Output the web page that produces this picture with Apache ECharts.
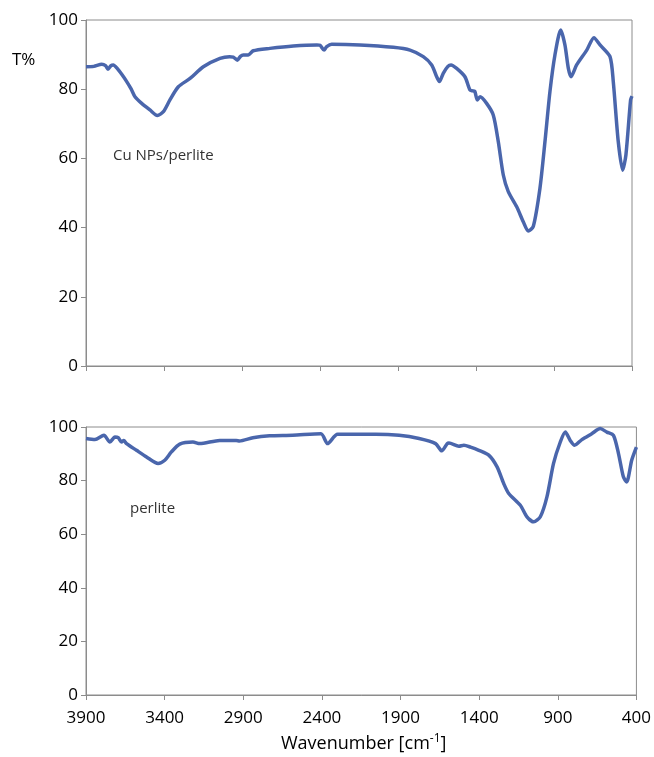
<!DOCTYPE html>
<html>
<head>
<meta charset="utf-8">
<script src="https://cdn.jsdelivr.net/npm/echarts@6/dist/echarts.min.js"></script>
<style>
html,body{margin:0;padding:0;background:#fff;}
#chart{width:654px;height:757px;}
</style>
</head>
<body>
<div id="chart"></div>
<script>
// Wavenumber ticks (cm-1)
var xTicks = [3900, 3400, 2900, 2400, 1900, 1400, 900, 400];
var yTicks = [0, 20, 40, 60, 80, 100];

// Cu NPs/perlite spectrum
var cuWave = [3900,3850,3799,3775,3759,3740,3725,3700,3671,3639,3610,3586,3543,3490,3443,3404,3362,3308,3233,3148,3041,2980,2956,2930,2910,2892,2860,2828,2721,2571,2420,2400,2374,2357,2325,2144,1930,1823,1738,1684,1652,1635,1610,1580,1560,1524,1471,1439,1420,1407,1392,1374,1332,1289,1257,1225,1193,1139,1097,1065,1033,990,958,926,894,857,830,808,791,755,690,644,605,541,520,488,460,439,409,400];
var cuT =    [86.5,86.6,87.2,86.8,85.8,86.8,87.0,86.0,84.3,82.2,80.0,77.8,75.9,74.0,72.4,73.5,76.9,80.7,83.1,86.5,88.9,89.4,89.3,88.4,89.5,89.9,89.9,91.1,91.8,92.5,92.8,92.7,91.3,92.3,93.0,92.8,92.1,91.3,89.4,87.0,83.6,82.2,84.6,86.6,87.0,86.0,83.6,79.8,79.5,79.3,76.9,77.8,75.9,72.5,64.8,55.2,50.4,46.0,41.7,39.0,40.3,51.4,64.8,79.3,89.9,97.1,92.8,86.0,83.6,87.0,91.3,94.9,92.8,89.4,82.2,64.8,56.6,61.0,76.9,78.0];

// perlite spectrum
var perWave = [3900,3843,3786,3748,3716,3695,3674,3660,3642,3579,3515,3442,3399,3357,3304,3220,3177,3050,2945,2924,2839,2733,2586,2406,2364,2300,2057,1909,1782,1677,1638,1603,1592,1529,1497,1455,1402,1339,1286,1244,1212,1138,1096,1053,1011,969,927,884,852,821,793,747,684,630,588,546,514,483,462,430,400];
var perT =    [95.7,95.3,96.9,94.4,96.3,96.0,94.4,95.0,93.8,91.3,88.8,86.4,87.6,90.7,93.6,94.4,93.8,95.0,95.0,94.8,96.0,96.7,96.9,97.5,93.8,97.3,97.3,96.9,95.7,93.8,91.1,93.8,94.0,92.8,93.2,92.5,91.3,89.5,85.1,78.9,75.2,70.8,66.5,64.6,66.5,73.9,86.4,94.4,98.1,95.0,93.2,95.3,97.5,99.4,98.1,96.9,90.1,81.4,79.5,87.6,92.5];

function pairs(xs, ys){ return xs.map(function(x,i){ return [x, ys[i]]; }); }

var FONT = '"Open Sans", "Noto Sans", sans-serif';
var AXIS_COLOR = '#8c8c8c';
var LINE_COLOR = '#4A66AC';

function xAxisCfg(idx, showLabels){
  return {
    type: 'value', gridIndex: idx, inverse: true,
    min: xTicks[xTicks.length-1], max: xTicks[0], interval: 500,
    axisLine: {show: true, lineStyle: {color: AXIS_COLOR, width: 1}},
    axisTick: {show: true, length: 5, lineStyle: {color: AXIS_COLOR}},
    axisLabel: {show: showLabels, color: '#000', fontSize: 17, fontFamily: FONT, margin: 15,
                formatter: function(v){ return String(v); }},
    splitLine: {show: false}
  };
}
function yAxisCfg(idx){
  return {
    type: 'value', gridIndex: idx, min: yTicks[0], max: yTicks[yTicks.length-1], interval: 20,
    axisLine: {show: true, lineStyle: {color: AXIS_COLOR, width: 1}},
    axisTick: {show: true, length: 5, lineStyle: {color: AXIS_COLOR}},
    axisLabel: {color: '#000', fontSize: 17, fontFamily: FONT, margin: 8},
    splitLine: {show: false}
  };
}

var chart = echarts.init(document.getElementById('chart'), null, {renderer: 'canvas'});
chart.setOption({
  backgroundColor: '#fff',
  animation: false,
  grid: [
    {left: 86, right: 22, top: 20, height: 346, show: true, borderColor: AXIS_COLOR, borderWidth: 1, backgroundColor: 'transparent'},
    {left: 86, right: 16, top: 427, height: 268, show: true, borderColor: AXIS_COLOR, borderWidth: 1, backgroundColor: 'transparent'}
  ],
  xAxis: [xAxisCfg(0, false), xAxisCfg(1, true)],
  yAxis: [yAxisCfg(0), yAxisCfg(1)],
  series: [
    {type: 'line', xAxisIndex: 0, yAxisIndex: 0, data: pairs(cuWave, cuT), showSymbol: false, smooth: 0.25,
     lineStyle: {color: LINE_COLOR, width: 3.5}},
    {type: 'line', xAxisIndex: 1, yAxisIndex: 1, data: pairs(perWave, perT), showSymbol: false, smooth: 0.25,
     lineStyle: {color: LINE_COLOR, width: 3.5}}
  ],
  graphic: [
    {type: 'text', left: 12, top: 52, style: {text: 'T%', fill: '#000', font: '17px ' + FONT}},
    {type: 'text', left: 113, top: 148, style: {text: 'Cu NPs/perlite', fill: '#333', font: '15px ' + FONT}},
    {type: 'text', left: 130, top: 501, style: {text: 'perlite', fill: '#333', font: '15px ' + FONT}},
    {type: 'text', left: 281, top: 733, style: {
      text: '{a|Wavenumber [cm}{s|-1}{a|]}',
      rich: {
        a: {fontSize: 18, fontFamily: FONT, fill: '#000', verticalAlign: 'bottom'},
        s: {fontSize: 12, fontFamily: FONT, fill: '#000', verticalAlign: 'top', padding: [0,0,8,0]}
      }
    }}
  ]
});
</script>
</body>
</html>
